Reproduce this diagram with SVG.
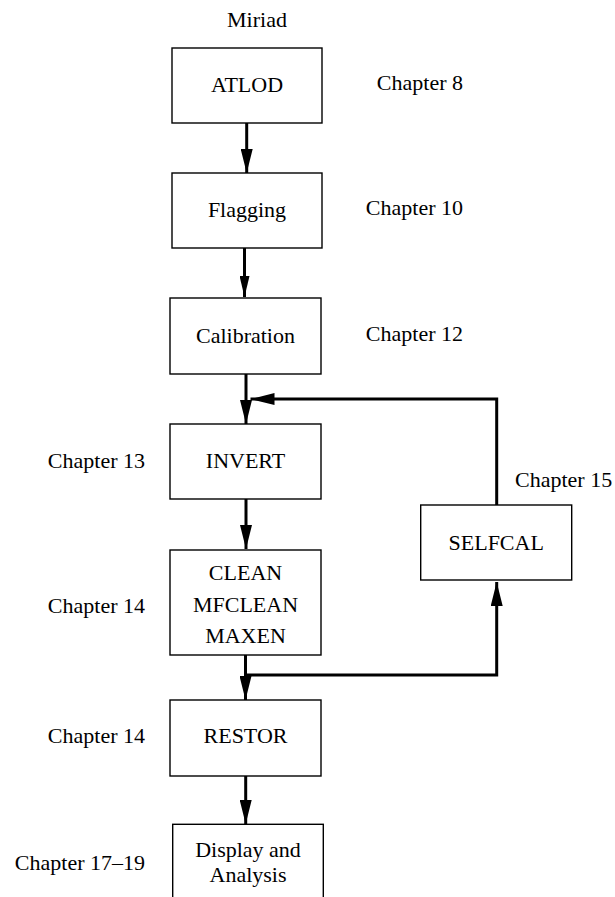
<svg xmlns="http://www.w3.org/2000/svg" width="615" height="897" viewBox="0 0 615 897">
<defs>
<style>
.t{font-family:'Liberation Serif','Times New Roman','DejaVu Serif',serif;font-size:22px;fill:#000}
.c{text-anchor:middle}
.r{text-anchor:end}
.box{fill:#fff;stroke:#000;stroke-width:1.4}
.conn{fill:none;stroke:#000;stroke-width:3}
</style>
<marker id="ah" markerUnits="userSpaceOnUse" markerWidth="24" markerHeight="12" refX="24" refY="6" orient="auto" viewBox="0 0 24 12">
<path d="M0,0 L24,6 L0,12 z" fill="#000"/>
</marker>
<marker id="ahs" markerUnits="userSpaceOnUse" markerWidth="21" markerHeight="10" refX="21" refY="5" orient="auto" viewBox="0 0 21 10">
<path d="M0,0 L21,5 L0,10 z" fill="#000"/>
</marker>
</defs>
<rect width="615" height="897" fill="#fff"/>
<g font-family="Liberation Serif, Times New Roman, serif" font-size="22">
<text class="t c" x="257" y="27">Miriad</text>
<g id="connectors">
<path class="conn" d="M246.7,123 L246.7,173" marker-end="url(#ah)"/>
<path class="conn" d="M244.5,248 L244.5,297" marker-end="url(#ahs)"/>
<path class="conn" d="M246,374 L246,424" marker-end="url(#ah)"/>
<path class="conn" d="M496.7,505 L496.7,399 L250.5,399" marker-end="url(#ah)"/>
<path class="conn" d="M246,499 L246,549" marker-end="url(#ah)"/>
<path class="conn" d="M245.5,655 L245.5,700" marker-end="url(#ah)"/>
<path class="conn" d="M245.5,675 L496.7,675 L496.7,582" marker-end="url(#ah)"/>
<path class="conn" d="M245.7,776 L245.7,824" marker-end="url(#ah)"/>
</g>
<g id="atlod"><rect class="box" x="172" y="48" width="150" height="75"/><text class="t c" x="247" y="92">ATLOD</text></g>
<g id="flagging"><rect class="box" x="172" y="173" width="150" height="75"/><text class="t c" x="247" y="217">Flagging</text></g>
<g id="calibration"><rect class="box" x="170" y="298" width="151" height="76"/><text class="t c" x="245.5" y="343">Calibration</text></g>
<g id="invert"><rect class="box" x="170" y="424" width="151" height="75"/><text class="t c" x="245.5" y="468">INVERT</text></g>
<g id="clean"><rect class="box" x="170" y="550" width="151" height="105"/><text class="t c" x="245.5" y="580">CLEAN</text><text class="t c" x="245.5" y="612">MFCLEAN</text><text class="t c" x="245.5" y="643">MAXEN</text></g>
<g id="selfcal"><rect class="box" x="420.7" y="505" width="151" height="75"/><text class="t c" x="496.2" y="550">SELFCAL</text></g>
<g id="restor"><rect class="box" x="170" y="700" width="151" height="76"/><text class="t c" x="245.5" y="743">RESTOR</text></g>
<g id="display"><rect class="box" x="172.7" y="824.3" width="150.6" height="90"/><text class="t c" x="248" y="857">Display and</text><text class="t c" x="248" y="882">Analysis</text></g>
<g id="labels">
<text class="t r" x="463" y="90">Chapter 8</text>
<text class="t r" x="463" y="215">Chapter 10</text>
<text class="t r" x="463" y="341">Chapter 12</text>
<text class="t r" x="145" y="468">Chapter 13</text>
<text class="t" x="515" y="487">Chapter 15</text>
<text class="t r" x="145" y="613">Chapter 14</text>
<text class="t r" x="145" y="743">Chapter 14</text>
<text class="t r" x="145" y="870">Chapter 17–19</text>
</g>
</g>
</svg>
